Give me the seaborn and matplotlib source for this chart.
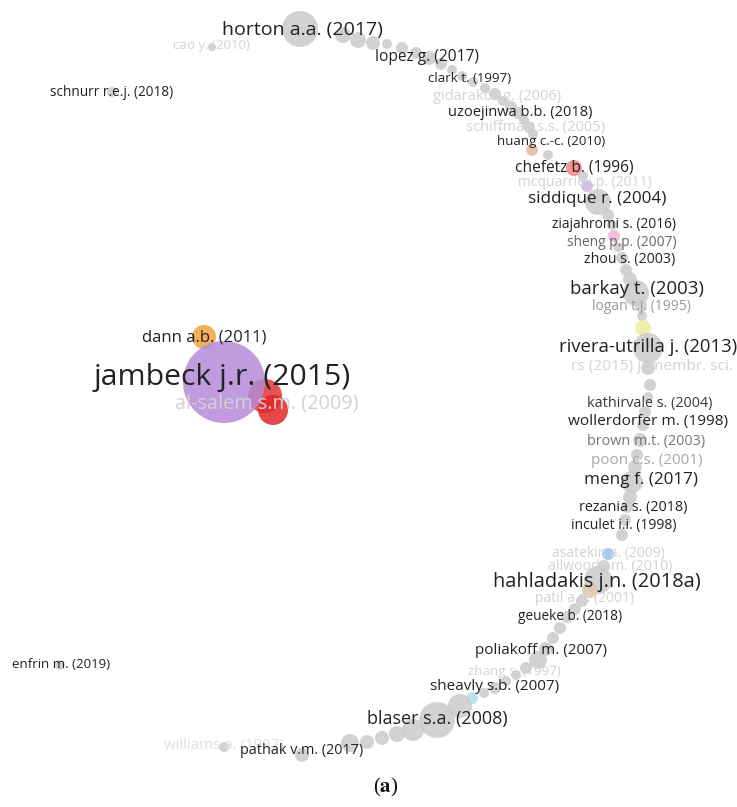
import pandas as pd
import seaborn as sns
import matplotlib.pyplot as plt

# node positions (pixel space of the map), radius and colour
node_x = [212, 112, 60,
          300, 343, 358, 373, 387, 402, 416, 429, 441, 452, 462, 473, 485, 495, 503, 511, 518, 524, 529, 533,
          532, 548, 574, 583, 587, 598, 608, 612, 614, 618, 622, 626, 630, 636, 641, 642, 643, 648,
          648, 650, 648, 645, 643, 640, 637, 635, 632, 630, 627, 625, 622, 608, 604, 598, 590, 582,
          575, 567, 560, 553, 546, 538, 526, 516, 506, 495, 484, 472, 460, 437, 413, 397, 382, 367,
          350, 302, 224,
          204, 265, 273, 224]
node_y = [47, 92, 665,
          29, 35, 40, 43, 44, 48, 53, 58, 64, 70, 76, 82, 88, 94, 101, 107, 113, 120, 127, 134,
          150, 155, 168, 176, 186, 202, 215, 225, 236, 247, 258, 270, 279, 293, 306, 316, 328, 348,
          368, 385, 397, 412, 425, 440, 455, 467, 482, 497, 507, 520, 535, 554, 566, 580, 590, 601,
          609, 617, 628, 638, 649, 660, 668, 675, 681, 688, 693, 698, 706, 720, 730, 734, 738, 742,
          743, 755, 747,
          337, 396, 410, 382]
node_r = [4, 5, 5,
          18, 8, 8, 7, 5, 6, 6, 7, 6, 5, 5, 5, 5, 6, 5, 6, 6, 5, 6, 5,
          6, 5, 8, 5, 6, 13, 6, 5, 6, 5, 6, 6, 7, 13, 6, 5, 8, 15,
          7, 6, 5, 6, 6, 7, 6, 7, 11, 7, 6, 6, 6, 6, 6, 14, 8, 6,
          6, 6, 6, 6, 7, 9, 6, 5, 5, 6, 5, 6, 12, 18, 11, 8, 7, 7,
          9, 7, 5,
          12, 17, 15, 41]
GRAY = "#cbcbcb"
node_color = [GRAY] * 23 + [
    "#e9b9a6", GRAY, "#f08484", GRAY, "#cbb5e6", GRAY, GRAY, GRAY, "#f1b2da", GRAY, GRAY, GRAY, GRAY,
    GRAY, GRAY, GRAY, "#ecea9c", GRAY,
    GRAY, GRAY, GRAY, GRAY, GRAY, GRAY, GRAY, GRAY, GRAY, GRAY, GRAY, GRAY, GRAY,
    "#9dbff0", GRAY, GRAY, "#e2c8a8", GRAY,
    GRAY, GRAY, GRAY, GRAY, GRAY, GRAY, GRAY, GRAY, GRAY, GRAY, GRAY, "#a9e2f0", GRAY, GRAY, GRAY,
    GRAY, GRAY, GRAY,
    GRAY, GRAY, GRAY,
    "#f0a23c", "#e63434", "#e02828", "#b58ad8"]

# labels
labels = ["horton a.a. (2017)", "cao y. (2010)", "schnurr r.e.j. (2018)", "lopez g. (2017)",
          "clark t. (1997)", "gidarakos g. (2006)", "uzoejinwa b.b. (2018)", "schiffman s.s. (2005)",
          "huang c.-c. (2010)", "chefetz b. (1996)", "mcquarrie j.p. (2011)", "siddique r. (2004)",
          "ziajahromi s. (2016)", "sheng p.p. (2007)", "zhou s. (2003)", "barkay t. (2003)",
          "logan t.j. (1995)", "rivera-utrilla j. (2013)", "rs (2015) j. membr. sci.",
          "kathirvale s. (2004)", "wollerdorfer m. (1998)", "brown m.t. (2003)", "poon c.s. (2001)",
          "meng f. (2017)", "rezania s. (2018)", "inculet i.i. (1998)", "asatekin a. (2009)",
          "allwood j.m. (2010)", "hahladakis j.n. (2018a)", "patil a.d. (2001)", "geueke b. (2018)",
          "poliakoff m. (2007)", "zhang s. (1997)", "sheavly s.b. (2007)", "blaser s.a. (2008)",
          "williams a. (1997)", "pathak v.m. (2017)", "enfrin m. (2019)", "dann a.b. (2011)",
          "jambeck j.r. (2015)", "al-salem s.m. (2009)"]
label_x = [302, 211, 112, 427, 470, 497, 520, 536, 551, 574, 585, 597, 614, 622, 630, 637, 641, 648,
           652, 650, 648, 646, 647, 641, 633, 624, 608, 610, 597, 585, 570, 541, 514, 495, 437, 224,
           302, 61, 204, 222, 267]
label_y = [30, 45, 92, 57, 79, 97, 112, 127, 142, 167, 182, 199, 225, 242, 259, 289, 307, 347, 367,
           403, 422, 441, 461, 480, 507, 526, 553, 566, 582, 598, 617, 650, 672, 687, 719, 746, 751,
           664, 337, 378, 404]
label_size = [14, 9.5, 9.8, 11.2, 9.5, 10.5, 10.5, 10.5, 9.5, 11.2, 10, 12.3, 9.9, 9.9, 10.2, 13.4,
              10, 13.3, 11.1, 10.4, 11.1, 10.4, 11, 12.3, 10.4, 10, 10, 10.3, 14.4, 10, 9.8, 11, 9.6,
              11, 13, 10.8, 10.4, 9.5, 12, 21.8, 14.3]
DARK, LIGHT = "#222222", "#d2d2d2"
label_color = [DARK, LIGHT, DARK, DARK, DARK, LIGHT, DARK, LIGHT, DARK, DARK, LIGHT, DARK, DARK,
               "#666666", DARK, DARK, "#9a9a9a", DARK, LIGHT, "#383838", DARK, "#777777", "#a8a8a8",
               DARK, DARK, DARK, LIGHT, LIGHT, DARK, LIGHT, DARK, DARK, LIGHT, DARK, DARK, "#e0e0e0",
               DARK, DARK, DARK, DARK, LIGHT]

df = pd.DataFrame({"x": node_x, "y": node_y, "r": node_r, "color": node_color})
# marker area in pt^2 for a radius in pixels at 100 dpi
df["area"] = (2 * df["r"] * 0.72) ** 2

fig = plt.figure(figsize=(7.37, 8.07), dpi=100)
ax = fig.add_axes([0, 0, 1, 1])
sns.scatterplot(data=df, x="x", y="y", hue="color", size="area",
                palette={c: c for c in df["color"].unique()},
                sizes=(df["area"].min(), df["area"].max()),
                size_norm=(df["area"].min(), df["area"].max()),
                alpha=0.85, linewidth=0, legend=False, ax=ax)

for t, x, y, s, c in zip(labels, label_x, label_y, label_size, label_color):
    ax.text(x, y, t, ha="center", va="center", fontsize=s, color=c,
            family=["Open Sans", "DejaVu Sans"])

plt.rcParams["mathtext.fontset"] = "stix"
ax.text(386, 787, r"($\mathbf{a}$)", ha="center", va="center", fontsize=15,
        family="Liberation Serif", color="#111111")

ax.set_xlim(0, 737)
ax.set_ylim(807, 0)
ax.axis("off")
fig.savefig("out.png", dpi=100, facecolor="white")
